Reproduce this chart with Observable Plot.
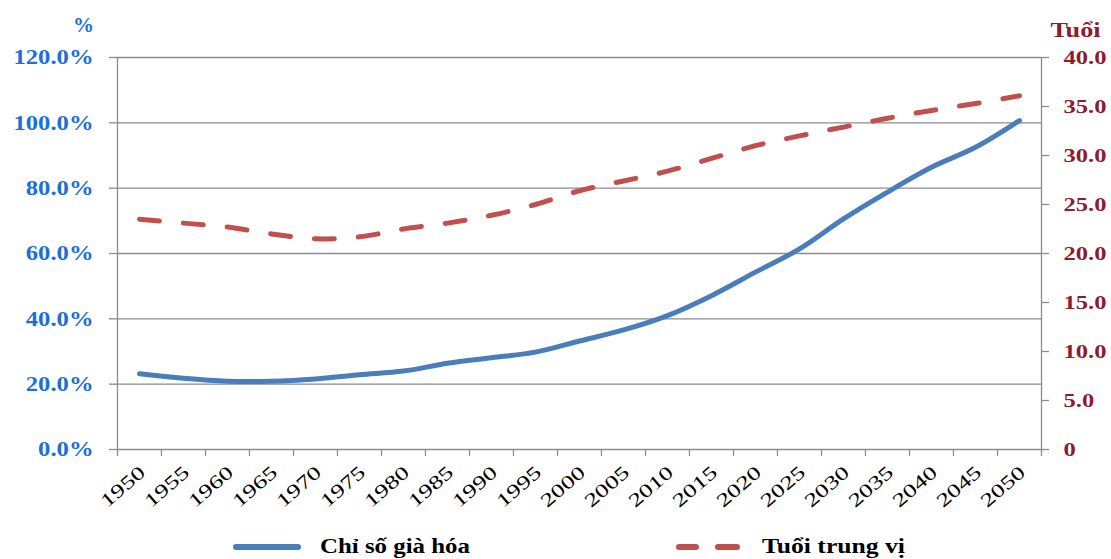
<!DOCTYPE html>
<html><head><meta charset="utf-8">
<script src="https://cdn.jsdelivr.net/npm/d3@7"></script>
<script src="https://cdn.jsdelivr.net/npm/@observablehq/plot@0.6"></script>
<style>
body{margin:0;background:#fff;}
#chart{position:relative;width:1111px;height:559px;overflow:hidden;}
#chart svg{display:block;}
.legend{position:relative;width:1111px;height:39px;font-family:"Liberation Serif","Times New Roman",serif;font-weight:bold;font-size:21px;color:#000;}
.legend .item{position:absolute;top:0;height:39px;}
.legend .lbl{position:absolute;top:15px;line-height:22px;white-space:nowrap;transform-origin:0 50%;}
</style></head><body><div id="chart"></div>
<script>
const years = [1950,1955,1960,1965,1970,1975,1980,1985,1990,1995,2000,2005,2010,2015,2020,2025,2030,2035,2040,2045,2050];
const agingIndex = [23.2,21.8,20.9,20.9,21.6,22.9,24.0,26.4,28.1,29.8,33.2,36.6,41.0,47.1,54.3,61.4,70.6,78.8,86.4,92.5,100.7];
const medianAge = [23.5,23.1,22.7,22.0,21.5,21.7,22.5,23.1,23.9,25.0,26.4,27.4,28.4,29.7,31.0,32.0,32.9,33.8,34.6,35.3,36.1];
const leftTicks = [0,20,40,60,80,100,120];
const rightTicks = [0,5,10,15,20,25,30,35,40];
const seriesNames = ["Chỉ số già hóa","Tuổi trung vị"];
const axisTitles = ["%","Tuổi"];
const seriesColors = ["#4a7ebb","#c0504d"];

const ageToPct = 120 / 40; // right axis 0–40 maps to left axis 0–120%
const bandEdges = d3.range(years.length + 1).map(i => years[0] - 2.5 + 5 * i);
const data = years.map((y, i) => ({year: y, aging: agingIndex[i], age: medianAge[i]}));
const serif = "'Liberation Serif','Times New Roman',serif";
const blue = "#1c6fd8", darkRed = "#8e1b2f", gridGray = "#8c8c8c";

const plot = Plot.plot({
  width: 1111, height: 520,
  marginLeft: 117, marginRight: 70, marginTop: 57, marginBottom: 71,
  x: {type: "linear", domain: [bandEdges[0], bandEdges[bandEdges.length - 1]]},
  y: {domain: [0, 120]},
  style: {background: "transparent", overflow: "visible"},
  marks: [
    Plot.ruleY(leftTicks, {stroke: gridGray, strokeWidth: 1.3}),
    Plot.ruleX([bandEdges[0], bandEdges[bandEdges.length - 1]], {stroke: gridGray, strokeWidth: 1.3}),
    Plot.axisX(bandEdges, {tickSize: 7, tickFormat: () => "", stroke: gridGray, strokeWidth: 1.3, label: null}),
    Plot.axisX(years, {tickSize: 0, tickPadding: 20, tickRotate: -41, tickFormat: d => String(d), dx: 3,
      fill: "#000", fontSize: 19, fontFamily: serif, label: null}),
    Plot.axisY(leftTicks, {anchor: "left", tickSize: 8, tickPadding: 16, tickFormat: d => d.toFixed(1) + "%",
      fill: blue, stroke: gridGray, strokeWidth: 1.3, fontSize: 21, fontWeight: "bold", fontFamily: serif, label: null}),
    Plot.axisY(rightTicks.map(v => v * ageToPct), {anchor: "right", tickSize: 7, tickPadding: 15,
      tickFormat: d => d === 0 ? "0" : (d / ageToPct).toFixed(1),
      fill: darkRed, stroke: gridGray, strokeWidth: 1.3, fontSize: 19, fontWeight: "bold", fontFamily: serif, label: null}),
    Plot.line(data, {x: "year", y: "aging", stroke: seriesColors[0], strokeWidth: 5, curve: "catmull-rom", strokeLinecap: "round"}),
    Plot.line(data, {x: "year", y: d => d.age * ageToPct, stroke: seriesColors[1], strokeWidth: 5,
      strokeDasharray: "20,24", strokeLinecap: "round", curve: "catmull-rom"}),
    Plot.text([axisTitles[0]], {text: d => d, frameAnchor: "top-left", dx: -34, dy: -40, fill: blue,
      fontSize: 21, fontWeight: "bold", fontFamily: serif, textAnchor: "middle"}),
    Plot.text([axisTitles[1]], {text: d => d, frameAnchor: "top-right", dx: 34, dy: -35, fill: darkRed,
      fontSize: 21, fontWeight: "bold", fontFamily: serif, textAnchor: "middle"})
  ]
});
const chart = document.getElementById("chart");
chart.appendChild(plot);

// Reference text is horizontally stretched: widen glyphs to the measured widths
function setLen(t, len) {
  t.setAttribute("textLength", len.toFixed(1));
  t.setAttribute("lengthAdjust", "spacingAndGlyphs");
}
const yTexts = [...plot.querySelectorAll('g[aria-label="y-axis tick label"] text')];
const leftT = yTexts.filter(t => t.textContent.endsWith("%"));
const rightT = yTexts.filter(t => !t.textContent.endsWith("%"));
function fitGroup(texts, widest, target) {
  const ref = texts.find(t => t.textContent === widest);
  if (!ref) return;
  const f = target / ref.getComputedTextLength();
  texts.forEach(t => setLen(t, t.getComputedTextLength() * f));
}
fitGroup(leftT, "120.0%", 80);
fitGroup(rightT, "40.0", 43);
plot.querySelectorAll('g[aria-label="x-axis tick label"] text').forEach(t => {
  if (t.textContent.trim()) setLen(t, 52);
});
plot.querySelectorAll('text').forEach(t => {
  if (t.textContent === axisTitles[0]) setLen(t, 21);
  if (t.textContent === axisTitles[1]) setLen(t, 50);
});

// Legend below the SVG
const legend = document.createElement("div");
legend.className = "legend";
legend.innerHTML = `
  <svg class="item" style="left:0;width:1111px" height="39">
    <line x1="236" x2="298" y1="27" y2="27" stroke="${seriesColors[0]}" stroke-width="6" stroke-linecap="round"/>
    <line x1="679" x2="696" y1="27" y2="27" stroke="${seriesColors[1]}" stroke-width="6" stroke-linecap="round"/>
    <line x1="718" x2="737" y1="27" y2="27" stroke="${seriesColors[1]}" stroke-width="6" stroke-linecap="round"/>
  </svg>
  <div class="lbl" id="lg0" style="left:320px">${seriesNames[0]}</div>
  <div class="lbl" id="lg1" style="left:762px">${seriesNames[1]}</div>`;
chart.appendChild(legend);
[["lg0", 150], ["lg1", 143]].forEach(([id, w]) => {
  const el = document.getElementById(id);
  const cw = el.getBoundingClientRect().width;
  if (cw > 0) el.style.transform = `scaleX(${w / cw})`;
});
</script>
</body></html>
